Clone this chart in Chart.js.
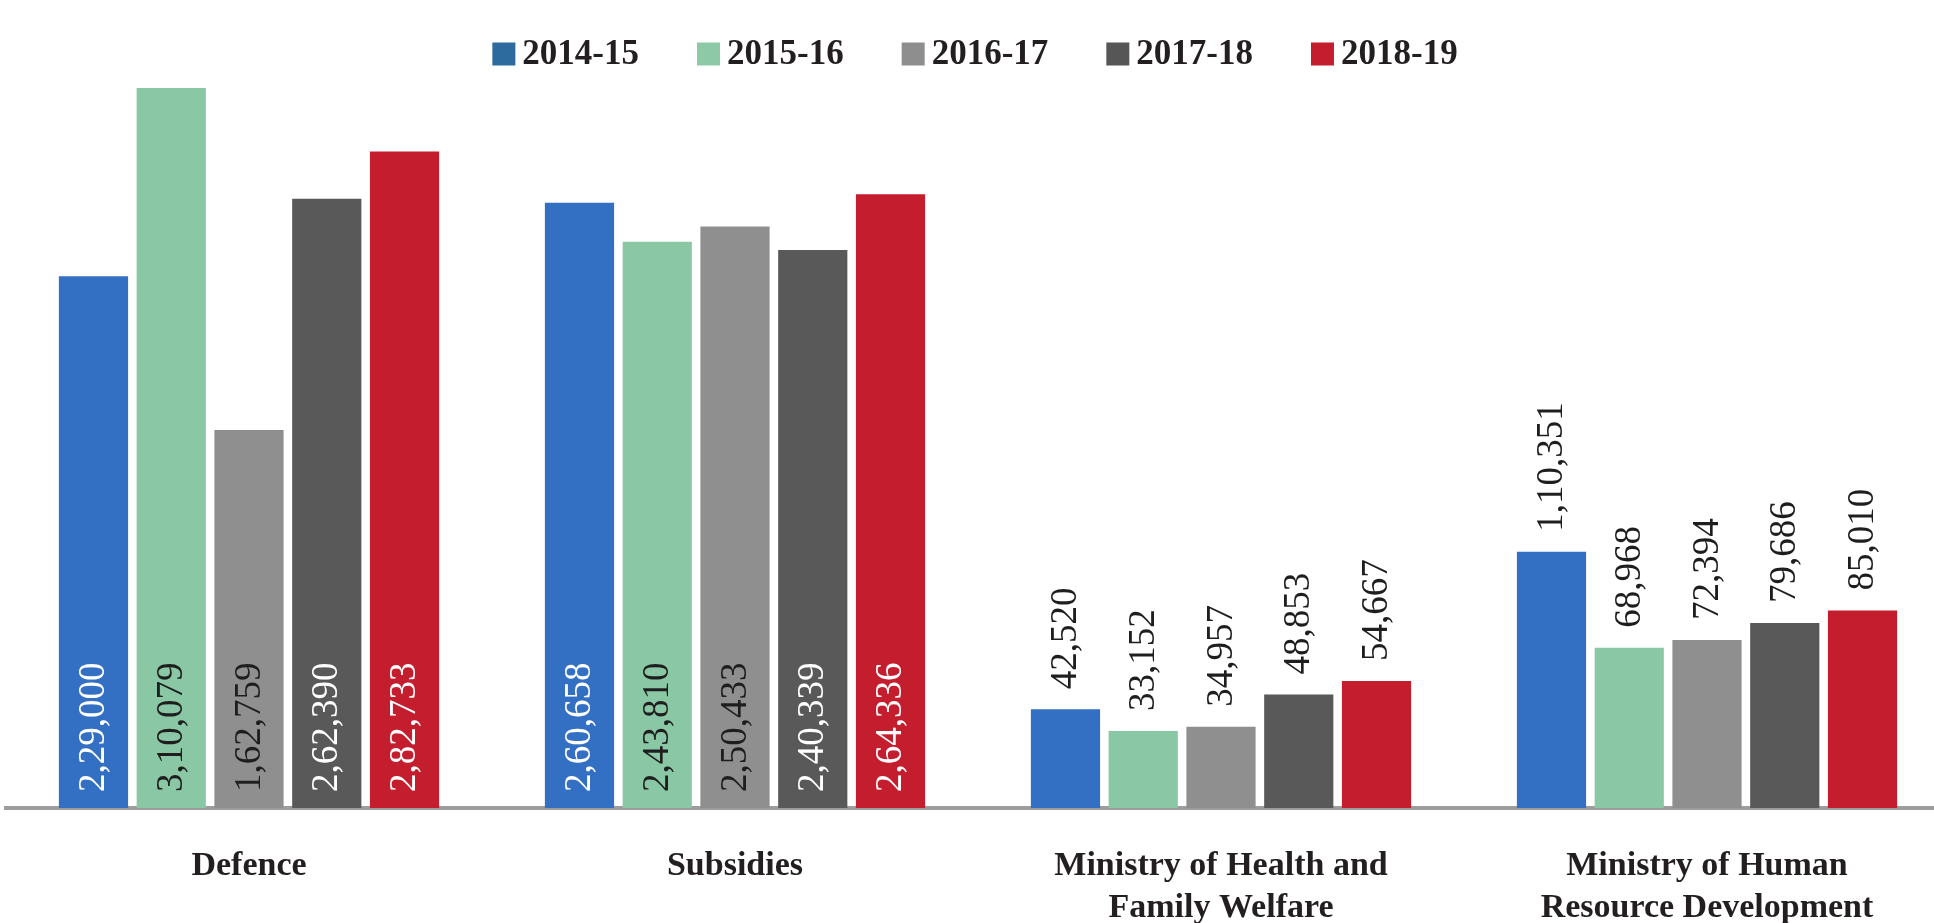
<!DOCTYPE html>
<html>
<head>
<meta charset="utf-8">
<script src="https://cdn.jsdelivr.net/npm/chart.js@4"></script>
<style>
  html, body { margin: 0; padding: 0; background: #ffffff; overflow: hidden; width: 1934px; height: 923px; }
  #wrap { position: relative; width: 1934px; height: 923px; overflow: hidden; }
  canvas { display: block; }
</style>
</head>
<body>
<div id="wrap"><canvas id="c" width="1950" height="923"></canvas></div>
<script>
// ---- data ----
const categories = [
  ['Defence'],
  ['Subsidies'],
  ['Ministry of Health and', 'Family Welfare'],
  ['Ministry of Human', 'Resource Development']
];
const seriesNames = ['2014-15', '2015-16', '2016-17', '2017-18', '2018-19'];
const values2014 = [229000, 260658, 42520, 110351];
const values2015 = [310079, 243810, 33152, 68968];
const values2016 = [162759, 250433, 34957, 72394];
const values2017 = [262390, 240339, 48853, 79686];
const values2018 = [282733, 264336, 54667, 85010];

// ---- styles ----
const barColors    = ['#3370C4', '#8AC8A5', '#908F90', '#595959', '#C41E2E'];
const legendColors = ['#2D6A9D', '#8DC8A7', '#8F8E8F', '#575656', '#C41E2E'];
const insideTextColors = ['#ffffff', '#1e1e1e', '#1e1e1e', '#ffffff', '#ffffff'];
const labelInsideMin = 150000;

function fmtIN(n) {
  const s = String(Math.round(n));
  if (s.length <= 3) return s;
  const last3 = s.slice(-3);
  const rest = s.slice(0, -3).replace(/\B(?=(\d{2})+(?!\d))/g, ',');
  return rest + ',' + last3;
}

const allSeries = [values2014, values2015, values2016, values2017, values2018];

const valueLabels = {
  id: 'valueLabels',
  afterDatasetsDraw(chart) {
    const ctx = chart.ctx;
    chart.data.datasets.forEach((ds, di) => {
      const meta = chart.getDatasetMeta(di);
      meta.data.forEach((bar, i) => {
        const v = ds.data[i];
        const inside = v >= labelInsideMin;
        ctx.save();
        ctx.translate(bar.x, inside ? bar.base - 16 : bar.y - 20);
        ctx.rotate(-Math.PI / 2);
        ctx.textAlign = 'left';
        ctx.textBaseline = 'middle';
        ctx.font = '37px "Liberation Serif", serif';
        ctx.fillStyle = inside ? insideTextColors[di] : '#1e1e1e';
        ctx.fillText(fmtIN(v), 0, 1);
        ctx.restore();
      });
    });
  }
};

const customLegend = {
  id: 'customLegend',
  afterDraw(chart) {
    const ctx = chart.ctx;
    ctx.save();
    ctx.font = 'bold 35px "Liberation Serif", serif';
    ctx.textBaseline = 'middle';
    ctx.textAlign = 'left';
    const box = 23, gapText = 7, gapItem = 58;
    const widths = chart.data.datasets.map(ds => box + gapText + ctx.measureText(ds.label).width);
    const total = widths.reduce((a, b) => a + b, 0) + gapItem * (widths.length - 1);
    let x = chart.width / 2 - total / 2;
    const cy = 54;
    chart.data.datasets.forEach((ds, di) => {
      ctx.fillStyle = legendColors[di];
      ctx.fillRect(x, cy - box / 2, box, box);
      ctx.fillStyle = '#231f20';
      ctx.fillText(ds.label, x + box + gapText, cy + 1);
      x += widths[di] + gapItem;
    });
    ctx.restore();
  }
};

new Chart(document.getElementById('c'), {
  type: 'bar',
  data: {
    labels: categories,
    datasets: seriesNames.map((name, i) => ({
      label: name,
      data: allSeries[i],
      backgroundColor: barColors[i],
      borderWidth: 0,
      categoryPercentage: 0.8,
      barPercentage: 0.89
    }))
  },
  options: {
    responsive: false,
    animation: false,
    devicePixelRatio: 1,
    layout: { padding: { top: 80, left: 6, right: 0, bottom: 0 } },
    plugins: {
      legend: { display: false },
      tooltip: { enabled: false }
    },
    scales: {
      x: {
        grid: { display: false, drawTicks: false },
        border: { display: true, color: '#9d9d9d', width: 4 },
        ticks: {
          color: '#231f20',
          padding: 37,
          maxRotation: 0,
          autoSkip: false,
          font: { family: '"Liberation Serif", serif', size: 34, weight: 'bold', lineHeight: '42px' }
        },
        afterFit(scale) { scale.height = 115; }
      },
      y: {
        display: false,
        min: 0,
        max: 313500
      }
    }
  },
  plugins: [valueLabels, customLegend]
});
</script>
</body>
</html>
